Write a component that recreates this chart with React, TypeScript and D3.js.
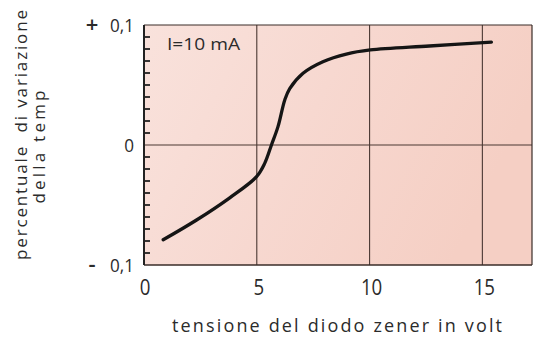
import React from 'react';
import * as d3 from 'd3';

// Data
const voltage = [0.85, 2.33, 3.8, 4.99, 5.35, 5.65, 5.94, 6.24, 6.46, 7.05, 7.93, 8.97, 10.03, 12.65, 15.4];
const tempVariation = [-0.079, -0.0625, -0.044, -0.0264, -0.0153, 0, 0.0153, 0.0375, 0.047, 0.0598, 0.0694, 0.0758, 0.0792, 0.0825, 0.0858];
const xTicks = [0, 5, 10, 15];
const xTickLabels = ['0', '5', '10', '15'];
const yTicks = [-0.1, 0, 0.1];
const yTickSigns = ['-', '', '+'];
const yTickLabels = ['0,1', '0', '0,1'];
const xGridValues = [5, 10, 15];
const yGridValues = [0];
const yMinorTicks = [-0.09, -0.08, -0.07, -0.06, -0.05, -0.04, -0.03, -0.02, -0.01, 0.01, 0.02, 0.03, 0.04, 0.05, 0.06, 0.07, 0.08, 0.09];
const xDomain = [0, 17.2];
const yDomain = [-0.1, 0.1];
const annotation = 'I=10 mA';
const xTitle = 'tensione del diodo zener in volt';
const yTitle1 = 'percentuale  di variazione';
const yTitle2 = 'della temp';

const W = 542;
const H = 348;
const FONT = "'Open Sans', 'DejaVu Sans', sans-serif";
const INK = '#2b2b2b';

export default function App() {
  const x = d3.scaleLinear().domain(xDomain).range([144, 532]);
  const y = d3.scaleLinear().domain(yDomain).range([265, 25]);
  const pts = voltage.map((v, i) => [v, tempVariation[i]] as [number, number]);
  const line = d3
    .line<[number, number]>()
    .x((d) => x(d[0]))
    .y((d) => y(d[1]))
    .curve(d3.curveCatmullRom.alpha(0.5));

  const x0 = x(xDomain[0]);
  const x1 = x(xDomain[1]);
  const yTop = y(yDomain[1]);
  const yBot = y(yDomain[0]);

  return (
    <svg
      width={W}
      height={H}
      style={{ position: 'absolute', left: 0, top: 0, background: '#fff' }}
      fontFamily={FONT}
    >
      <defs>
        <linearGradient id="bg" x1="0" y1="0" x2="1" y2="0.3">
          <stop offset="0" stopColor="#f9e2dc" />
          <stop offset="0.5" stopColor="#f7d8d0" />
          <stop offset="1" stopColor="#f5cfc4" />
        </linearGradient>
      </defs>
      <rect x={x0} y={yTop} width={x1 - x0} height={yBot - yTop} fill="url(#bg)" />

      {/* grid */}
      {xGridValues.map((v) => (
        <line key={'gx' + v} x1={x(v)} x2={x(v)} y1={yTop} y2={yBot} stroke="#4a3833" strokeWidth={1.1} />
      ))}
      {yGridValues.map((v) => (
        <line key={'gy' + v} x1={x0} x2={x1} y1={y(v)} y2={y(v)} stroke="#4a3833" strokeWidth={1.1} />
      ))}

      {/* frame */}
      <line x1={x0} x2={x1} y1={yTop} y2={yTop} stroke="#3a2c28" strokeWidth={1.2} />
      <line x1={x1} x2={x1} y1={yTop} y2={yBot} stroke="#3a2c28" strokeWidth={1.2} />
      <line x1={x0} x2={x1} y1={yBot} y2={yBot} stroke="#3a2c28" strokeWidth={1.3} />
      <line x1={x0} x2={x0} y1={yTop} y2={yBot} stroke="#222" strokeWidth={2} />

      {/* minor ticks */}
      {yMinorTicks.map((v) => (
        <line key={'mt' + v} x1={x0} x2={x0 + 6} y1={y(v)} y2={y(v)} stroke="#222" strokeWidth={1.8} />
      ))}

      {/* curve */}
      <path d={line(pts) || ''} fill="none" stroke="#151515" strokeWidth={3.3} strokeLinecap="round" strokeLinejoin="round" />

      {/* y tick labels */}
      {yTicks.map((v, i) => (
        <g key={'yl' + v}>
          <text
            transform={`translate(134,${y(v) + 7}) scale(0.9,1)`}
            textAnchor="end"
            fontSize={19}
            fill={INK}
          >
            {yTickLabels[i]}
          </text>
          {yTickSigns[i] && (
            <text x={92} y={y(v) + 7} textAnchor="middle" fontSize={22} fill={INK} fontWeight={600}>
              {yTickSigns[i]}
            </text>
          )}
        </g>
      ))}

      {/* x tick labels */}
      {xTicks.map((v, i) => (
        <text
          key={'xl' + v}
          transform={`translate(${x(v) + (v === 0 ? 1 : 2)},${295}) scale(0.85,1)`}
          textAnchor="middle"
          fontSize={22}
          fill={INK}
        >
          {xTickLabels[i]}
        </text>
      ))}

      {/* annotation */}
      <text x={167} y={50} fontSize={17} fill={INK} textLength={73} lengthAdjust="spacingAndGlyphs">
        {annotation}
      </text>

      {/* axis titles */}
      <text x={337} y={332} textAnchor="middle" fontSize={18} fill={INK} textLength={330} lengthAdjust="spacing" style={{ whiteSpace: 'pre' }}>
        {xTitle}
      </text>
      <text
        transform="translate(27,135) rotate(-90)"
        textAnchor="middle"
        fontSize={17}
        fill={INK}
        textLength={250}
        lengthAdjust="spacing"
        style={{ whiteSpace: 'pre' }}
      >
        {yTitle1}
      </text>
      <text
        transform="translate(45,147) rotate(-90)"
        textAnchor="middle"
        fontSize={17}
        fill={INK}
        textLength={113}
        lengthAdjust="spacing"
        style={{ whiteSpace: 'pre' }}
      >
        {yTitle2}
      </text>
    </svg>
  );
}
